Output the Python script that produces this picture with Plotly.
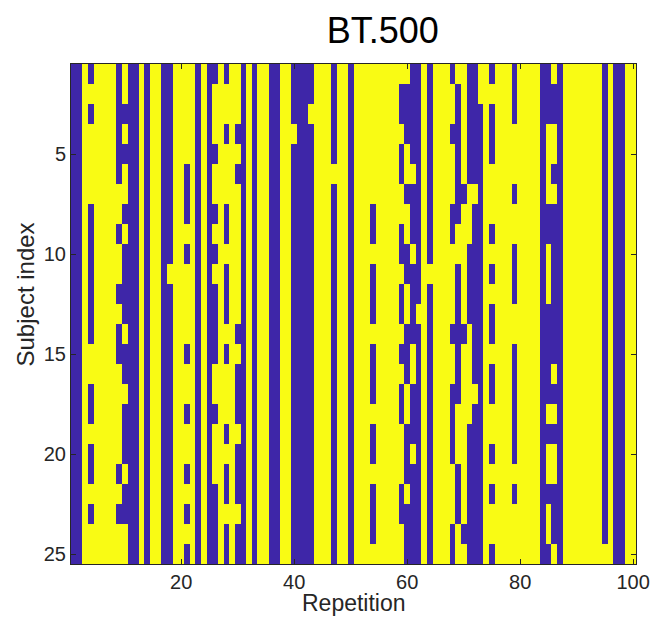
import plotly.graph_objects as go

repetitions = list(range(1, 101))
subjects = list(range(1, 26))
x_ticks = [20, 40, 60, 80, 100]
y_ticks = [5, 10, 15, 20, 25]

B = "0" * 25
Y = "1" * 25
# one string per repetition (column), 25 subjects top->bottom; 1 = yellow, 0 = blue
columns = [
    B, B, Y, "0101111000000011001001011", Y, Y, Y, Y,
    "0000001101101001111101011", "1101011010000100100010011",
    B, B, Y, B, Y, Y, B, "0000000000100000000000000", Y, Y,
    "1111100010111101101101010", Y, B, Y, B,
    "0111011010100001101110000", Y, "0110111001000101110100100", Y,
    "1110101111111010001000100",
    B, Y, B, Y, Y, B, B, Y, Y, "0001000000000000000000000",
    B, B, "0010000000000000000000000", Y, Y, Y, "0000010000000000000000000", Y, Y, B,
    Y, Y, Y, "1111111001000100010010001", Y, Y, Y, Y,
    "1001001100100101001110011", "1000110110011000110001000",
    "0000010001000011000100000", "0000000000001000000000000", Y,
    "0000000000100000000000000", Y, Y, Y,
    "0110111001111011000011100", "1000000011000000011100011",
    "1111110111111011111111101", "0000001110000111110000000",
    "0000001000000000100000000", "1100000000000000000000000", Y,
    "0100011101010010011010110", Y, Y, Y,
    "0001110110001100000010111", Y, Y, Y, Y, B,
    "0001111001110000010110110", "1001101000000001010110001", B,
    Y, Y, Y, Y, Y, Y, Y, "0000000000000000000000001", Y, B, B, Y, Y,
]

z = [[int(columns[c][r]) for c in range(len(repetitions))] for r in range(len(subjects))]

fig = go.Figure(go.Heatmap(
    x=repetitions, y=subjects, z=z, zmin=0, zmax=1,
    colorscale=[[0, "rgb(62,38,168)"], [1, "rgb(249,251,20)"]],
    showscale=False, hoverinfo="skip",
))

axis_common = dict(
    ticks="inside", ticklen=5, tickcolor="#262626", tickwidth=1,
    showline=True, linecolor="#262626", linewidth=1, mirror="allticks",
    showgrid=False, zeroline=False,
    tickfont=dict(size=20, color="#262626"),
)
fig.update_xaxes(range=[0.5, 100.5], tickvals=x_ticks, **axis_common)
fig.update_yaxes(range=[25.5, 0.5], tickvals=y_ticks, **axis_common)

fig.update_layout(
    width=662, height=622,
    margin=dict(l=71, r=20, t=64, b=58),
    paper_bgcolor="white", plot_bgcolor="white",
    font=dict(family="Liberation Sans, Arial, sans-serif", size=20, color="#262626"),
    title=dict(text="BT.500", x=(386 - 71) / 571, xref="paper", xanchor="center",
               y=1 - 30 / 622, yref="container", yanchor="middle",
               font=dict(size=36, color="black")),
    annotations=[
        dict(text="Repetition", x=0.5, y=-(603 - 564) / 500, xref="paper", yref="paper",
             xanchor="center", yanchor="middle", showarrow=False,
             font=dict(size=23, color="#262626")),
        dict(text="Subject index", x=(25 - 71) / 571, y=0.54, xref="paper", yref="paper",
             xanchor="center", yanchor="middle", showarrow=False, textangle=-90,
             font=dict(size=24, color="#262626")),
    ],
)

fig.write_html("out.html")
